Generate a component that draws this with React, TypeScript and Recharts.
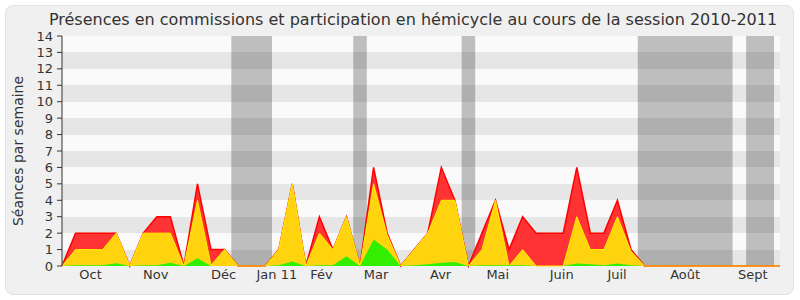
import React from "react";
import { ComposedChart, Area, XAxis, YAxis, CartesianGrid, ReferenceArea } from "recharts";

const presences = [0, 2, 2, 2, 2, 0, 2, 3, 3, 0, 5, 1, 1, 0, 0, 0, 1, 5, 0, 3, 1, 3, 0, 6, 2, 0, 1, 2, 6, 4, 0, 2, 4, 1, 3, 2, 2, 2, 6, 2, 2, 4, 1, 0, 0, 0, 0, 0, 0, 0, 0, 0, 0, 0];
const hemicycle = [0, 1, 1, 1, 2, 0, 2, 2, 2, 0, 4, 0.05, 1, 0, 0, 0, 1, 5, 0, 2, 1, 3, 0, 5, 1.9, 0, 1, 2, 4, 4, 0, 1, 4, 0, 1, 0, 0, 0, 3, 1, 1, 3, 0.9, 0, 0, 0, 0, 0, 0, 0, 0, 0, 0, 0];
const commissions = [0, 0.05, 0.05, 0.05, 0.16, 0, 0.05, 0.05, 0.2, 0, 0.47, 0, 0, 0, 0, 0, 0.05, 0.28, 0, 0.05, 0.05, 0.6, 0, 1.62, 1.0, 0, 0.05, 0.1, 0.2, 0.25, 0, 0.05, 0.05, 0.05, 0.05, 0, 0, 0, 0.15, 0.1, 0.05, 0.15, 0.05, 0, 0, 0, 0, 0, 0, 0, 0, 0, 0, 0];

const monthLabels = ["Oct", "Nov", "Déc", "Jan 11", "Fév", "Mar", "Avr", "Mai", "Juin", "Juil", "Août", "Sept"];
const monthPositions = [2.11, 6.92, 11.93, 15.86, 19.15, 23.18, 27.95, 32.17, 36.89, 40.97, 46.0, 50.99];

const holidayStarts = [12.5, 21.5, 29.5, 42.5, 50.5];
const holidayEnds = [15.5, 22.5, 30.5, 49.5, 52.56];

const yTicks = [0, 1, 2, 3, 4, 5, 6, 7, 8, 9, 10, 11, 12, 13, 14];

const data = presences.map((p, i) => ({
  week: i,
  presences: p,
  hemicycle: hemicycle[i],
  commissions: commissions[i],
}));
const weekTicks = data.map((d) => d.week);

const FONT = "'DejaVu Sans', Verdana, sans-serif";

const MonthTick = (props: any) => {
  const { x, y, payload } = props;
  const idx = monthPositions.indexOf(payload.value);
  return (
    <text x={x} y={y} textAnchor="middle" fontSize={13} fill="#333" fontFamily={FONT} dy={11}>
      {monthLabels[idx]}
    </text>
  );
};

const YLabel = (props: any) => {
  const vb = props.viewBox || {};
  const cx = 18;
  const cy = (vb.y ?? 36) + (vb.height ?? 230) / 2;
  return (
    <text x={cx} y={cy} transform={`rotate(-90, ${cx}, ${cy})`} textAnchor="middle" dominantBaseline="central" fontSize={14} fill="#333" fontFamily={FONT}>
      Séances par semaine
    </text>
  );
};

export default function App() {
  return (
    <div style={{ position: "absolute", left: 0, top: 0, width: 800, height: 300, background: "#fff" }}>
      <div style={{ position: "absolute", left: 5, top: 5, width: 787, height: 288, background: "#f0f0f0", border: "1px solid #e2e2e2", borderRadius: 8 }} />
      <div style={{ position: "absolute", left: 0, top: 10, width: 826, textAlign: "center", fontFamily: FONT, fontSize: 16, color: "#333", whiteSpace: "nowrap" }}>
        Présences en commissions et participation en hémicycle au cours de la session 2010-2011
      </div>
      <div style={{ position: "absolute", left: 0, top: 0 }}>
        <ComposedChart width={800} height={300} data={data} margin={{ top: 36, right: 20, bottom: 0, left: 0 }}>
          <CartesianGrid horizontal vertical={false} stroke="none" horizontalFill={["#fafafa", "#e6e6e6"]} />
          <XAxis xAxisId="t" orientation="top" type="number" dataKey="week" domain={[0, 53]} ticks={weekTicks} interval={0} height={0} tick={false} tickSize={2} axisLine={false} tickLine={{ stroke: "#777", strokeDasharray: "1 1" }} />
          <XAxis xAxisId="m" type="number" dataKey="week" domain={[0, 53]} ticks={monthPositions} interval={0} height={34} tick={<MonthTick />} tickLine={false} axisLine={false} tickSize={0} />
          <YAxis type="number" domain={[0, 14]} ticks={yTicks} interval={0} width={62} tickSize={5} tickMargin={4} tick={{ fontSize: 13, fill: "#333", fontFamily: FONT }} axisLine={{ stroke: "#333" }} tickLine={{ stroke: "#333" }} label={<YLabel />} />
          {holidayStarts.map((s, i) => (
            <ReferenceArea key={i} xAxisId="w" x1={s} x2={holidayEnds[i]} y1={0} y2={14} fill="#000" fillOpacity={0.24} stroke="none" ifOverflow="hidden" />
          ))}
          <Area xAxisId="w" type="linear" dataKey="presences" stroke="#ff0000" strokeWidth={1.5} fill="#ff3333" fillOpacity={1} isAnimationActive={false} dot={false} activeDot={false} />
          <Area xAxisId="w" type="linear" dataKey="hemicycle" stroke="#ffee00" strokeWidth={1} fill="#ffd40f" fillOpacity={1} isAnimationActive={false} dot={false} activeDot={false} />
          <Area xAxisId="w" type="linear" dataKey="commissions" stroke="none" fill="#33ee00" fillOpacity={1} isAnimationActive={false} dot={false} activeDot={false} />
          <XAxis xAxisId="w" type="number" dataKey="week" domain={[0, 53]} ticks={weekTicks} interval={0} height={0} tick={false} tickSize={6} axisLine={{ stroke: "#333" }} tickLine={{ stroke: "#333" }} zIndex={600} />
        </ComposedChart>
      </div>
    </div>
  );
}
